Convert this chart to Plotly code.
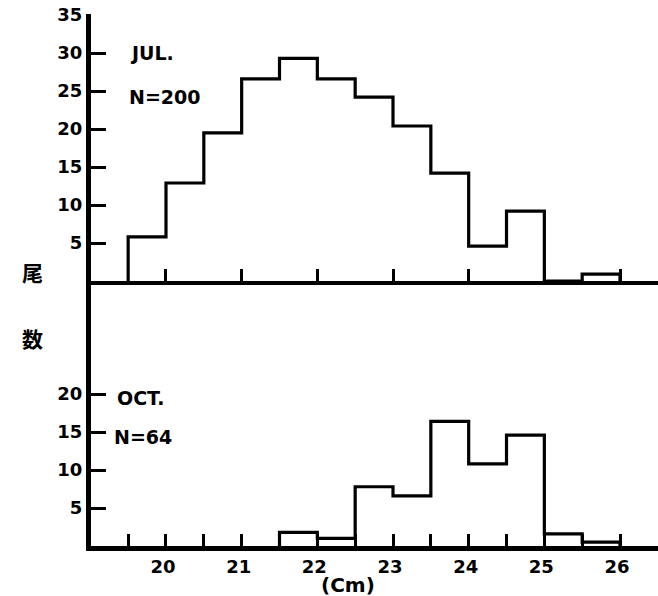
import plotly.graph_objects as go

# Body-length frequency of fish sampled in July and October (0.5 cm classes)
jul_edges = [19.5, 20.0, 20.5, 21.0, 21.5, 22.0, 22.5, 23.0, 23.5, 24.0, 24.5, 25.0, 25.5, 26.0]
jul_counts = [5.8, 12.9, 19.5, 26.6, 29.3, 26.6, 24.2, 20.4, 14.2, 4.6, 9.2, 0.0, 0.9]

oct_edges = [21.5, 22.0, 22.5, 23.0, 23.5, 24.0, 24.5, 25.0, 25.5, 26.0]
oct_counts = [1.8, 1.0, 7.8, 6.6, 16.4, 10.8, 14.6, 1.6, 0.5]

x_major = [20, 21, 22, 23, 24, 25, 26]
x_minor = [19.5 + 0.5 * i for i in range(15)]
jul_yticks = [5, 10, 15, 20, 25, 30, 35]
oct_yticks = [5, 10, 15, 20]

BOLD = dict(family="DejaVu Sans", size=18, color="black", weight="bold")


def step_outline(edges, counts):
    """Histogram outline points for an 'hv' step line, closed to the baseline."""
    xs = [edges[0]] + list(edges[:-1]) + [edges[-1]]
    ys = [0] + list(counts) + [0]
    return xs, ys


fig = go.Figure()

for edges, counts, xa, ya in [(jul_edges, jul_counts, "x", "y"),
                              (oct_edges, oct_counts, "x2", "y2")]:
    xs, ys = step_outline(edges, counts)
    fig.add_trace(go.Scatter(
        x=xs, y=ys, mode="lines", line=dict(color="black", width=3.2, shape="hv"),
        xaxis=xa, yaxis=ya, showlegend=False, hoverinfo="skip",
    ))

x_range = [19.009, 26.502]
split = 0.498

axis_common = dict(showgrid=False, zeroline=False, showline=True, linecolor="black",
                   ticks="inside", tickcolor="black")

fig.update_layout(
    width=658, height=596,
    margin=dict(l=91, r=0, t=14, b=50),
    paper_bgcolor="white", plot_bgcolor="white",
    font=BOLD,
    xaxis=dict(**axis_common, domain=[0, 1], range=x_range, anchor="y", linewidth=4,
               tickvals=x_major, ticklen=12, tickwidth=3, showticklabels=False),
    yaxis=dict(**axis_common, domain=[split, 1], range=[0, 35.13], anchor="x",
               linewidth=5, tickvals=jul_yticks, ticklen=15, tickwidth=3,
               tickfont=BOLD),
    xaxis2=dict(**axis_common, domain=[0, 1], range=x_range, anchor="y2", linewidth=5,
                tickvals=x_minor,
                ticktext=[str(int(v)) if v == int(v) else "" for v in x_minor],
                ticklen=12, tickwidth=3, tickfont=BOLD, ticklabelshift=-3),
    yaxis2=dict(**axis_common, domain=[0, split], range=[0, 34.87], anchor="x2",
                linewidth=5, tickvals=oct_yticks, ticklen=15, tickwidth=3,
                tickfont=BOLD),
)

label_font = dict(family="DejaVu Sans", size=19, color="black", weight="bold")
for text, x, y, xr, yr in [("JUL.", 19.5, 30.0, "x", "y"),
                           ("N=200", 19.49, 24.2, "x", "y"),
                           ("OCT.", 19.33, 19.5, "x2", "y2"),
                           ("N=64", 19.29, 14.3, "x2", "y2")]:
    fig.add_annotation(text=text, x=x, y=y, xref=xr, yref=yr, xanchor="left",
                       yanchor="middle", showarrow=False, font=label_font)

fig.add_annotation(text="(Cm)", x=22.4, y=-0.074, xref="x2", yref="paper",
                   xanchor="center", yanchor="middle", showarrow=False,
                   font=dict(family="DejaVu Sans", size=20, color="black", weight="bold"))

cjk = dict(family="Noto Sans CJK JP", size=21, color="black")
fig.add_annotation(text="尾", x=-0.125, y=0.515, xref="paper", yref="paper",
                   showarrow=False, font=cjk)
fig.add_annotation(text="数", x=-0.125, y=0.391, xref="paper", yref="paper",
                   showarrow=False, font=cjk)

fig.write_html("out.html")
